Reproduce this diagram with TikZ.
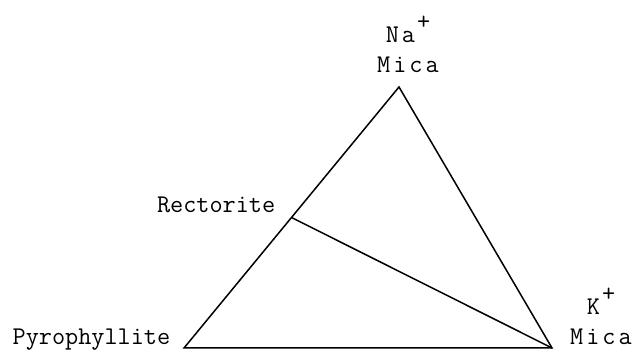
\documentclass[tikz,border=0pt]{standalone}
\usepackage{fontspec}
\usepackage{tikz}

\newcommand{\supplus}{\kern2pt\raisebox{0.5em}{+}}
\newcommand{\micatxt}{M\kern3pt i\kern3pt c\kern3pt a}

\begin{document}
\begin{tikzpicture}[x=1pt,y=1pt,line width=1.5pt,
  lbl/.style={font=\fontsize{25.5}{30}\selectfont\ttfamily,inner sep=0pt},
  wide/.style={lbl,align=center,anchor=south}]
\useasboundingbox (0,0) rectangle (635,350);
\coordinate (na) at (399,263);
\coordinate (pyr) at (184,2);
\coordinate (k) at (552,2);
\coordinate (rec) at (291.5,132.5);
\draw (pyr) -- (na) -- (k) -- cycle;
\draw (rec) -- (k);
\node[wide] (nalbl) at (408,277) {N\kern3pt a\supplus\\\micatxt};
\node[lbl,anchor=base east] (reclbl) at (276,137) {Rectorite};
\node[lbl,anchor=base east] (pyrlbl) at (171,5) {Pyrophyllite};
\node[wide] (klbl) at (601,5) {K\supplus\\\micatxt};
\end{tikzpicture}
\end{document}
